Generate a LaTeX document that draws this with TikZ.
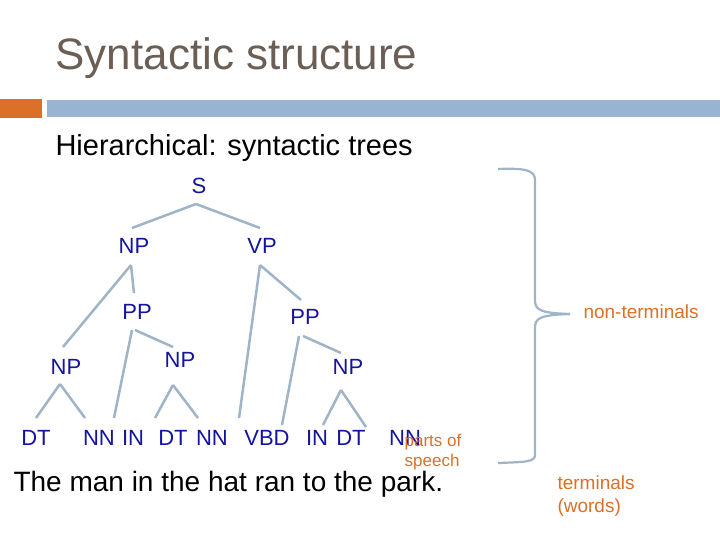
\documentclass[tikz,border=0pt]{standalone}
\usepackage{fontspec}
\setmainfont{Liberation Sans}
\definecolor{tc}{HTML}{1414A0}
\definecolor{lc}{HTML}{A0B4C8}
\definecolor{oc}{HTML}{DC7028}
\definecolor{ttl}{HTML}{6B5E55}
\definecolor{bar}{HTML}{98B4D0}
\begin{document}
\begin{tikzpicture}[x=1pt,y=-1pt,
  lab/.style={text=tc,font=\fontsize{22}{22}\selectfont,inner sep=1pt},
  br/.style={draw=lc,line width=2.2pt},
  ed/.style={draw=lc,line width=2.5pt},
  org/.style={text=oc,font=\fontsize{19}{23}\selectfont,align=left}]
\useasboundingbox (0,0) rectangle (720,540);
\fill[white] (0,0) rectangle (720,540);
\node[anchor=west,text=ttl,font=\fontsize{44}{44}\selectfont] (title) at (52,58) {Syntactic structure};
\fill[oc] (0,99) rectangle (42,118);
\fill[bar] (47,100) rectangle (720,117);
\node[anchor=west,font=\fontsize{29}{29}\selectfont] (hier) at (52,148) {Hierarchical: syntactic trees};
% tree nodes
\node[lab] (S) at (199,186) {S};
\node[lab] (NP1) at (134,246) {NP};
\node[lab] (VP) at (262,246) {VP};
\node[lab] (PP1) at (137,312) {PP};
\node[lab] (PP2) at (305,317) {PP};
\node[lab] (NP2) at (66,367) {NP};
\node[lab] (NP3) at (180,360) {NP};
\node[lab] (NP4) at (348,367) {NP};
\node[lab] (t1) at (36,438) {DT};
\node[lab] (t2) at (99,438) {NN};
\node[lab] (t3) at (133,438) {IN};
\node[lab] (t4) at (173,438) {DT};
\node[lab] (t5) at (212,438) {NN};
\node[lab] (t6) at (267,438) {VBD};
\node[lab] (t7) at (317,438) {IN};
\node[lab] (t8) at (351,438) {DT};
\node[lab] (t9) at (405,438) {NN};
% edges
\coordinate (s0) at (196,204);
\draw[ed] (s0) -- (132,228) (s0) -- (260,228);
\draw[ed] (131,265) -- (63,347) (131,265) -- (134,293);
\draw[ed] (132,330) -- (114,418) (135,330) -- (173,347);
\draw[ed] (173,385) -- (155,418) (173,385) -- (198,418);
\draw[ed] (60,384) -- (36,418) (60,384) -- (85,418);
\draw[ed] (260,265) -- (239,418) (260,265) -- (301,300);
\draw[ed] (299,336) -- (282,425) (303,336) -- (341,353);
\draw[ed] (341,390) -- (323,425) (341,390) -- (366,427);
\node[org,font=\fontsize{17}{20}\selectfont] (pos) at (433,452) {parts of\\speech};
\node[anchor=west,font=\fontsize{28}{28}\selectfont] (sent) at (10,484) {The man in the hat ran to the park.};
% brace
\coordinate (tip) at (570,314);
\draw[br] (498,169) .. controls (525,168) and (535,170) .. (535,180) -- (535,300)
  .. controls (535,310) and (540,313) .. (tip);
\draw[br] (tip) .. controls (540,315) and (535,318) .. (535,328) -- (535,455)
  .. controls (535,462) and (525,462) .. (498,463);
\node[org,anchor=west] (nt) at (580,312) {non-terminals};
\node[org,anchor=north west] (term) at (554,472) {terminals\\(words)};
\end{tikzpicture}
\end{document}
